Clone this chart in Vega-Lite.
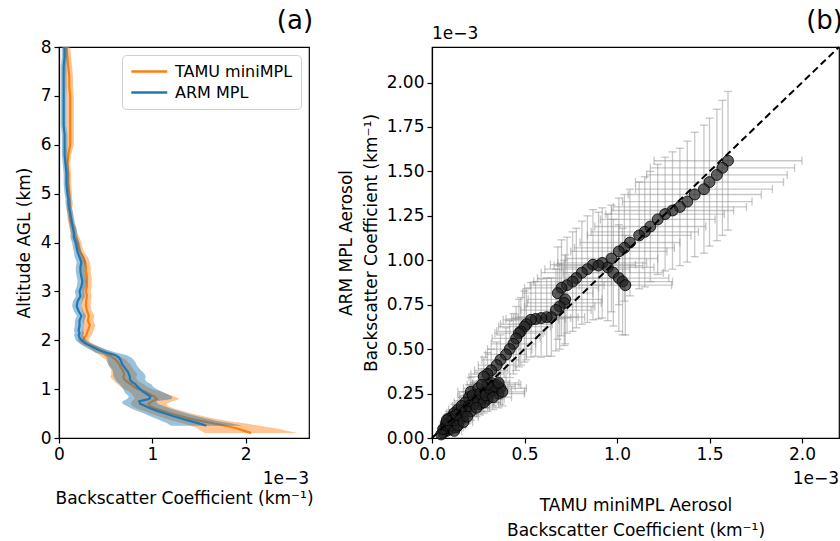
{
  "$schema": "https://vega.github.io/schema/vega-lite/v6.json",
  "padding": {"left": 14, "top": 7, "right": 0, "bottom": 0},
  "bounds": "flush",
  "spacing": 123,
  "resolve": {"scale": {"color": "independent"}, "legend": {"color": "independent"}},
  "config": {
    "font": "DejaVu Sans",
    "view": {"stroke": "#000", "strokeWidth": 1.2},
    "axis": {"grid": false, "domainColor": "#000", "tickColor": "#000", "labelColor": "#000", "titleColor": "#000", "labelFontSize": 17, "titleFontSize": 17, "titleFontWeight": "normal", "tickSize": 5, "labelPadding": 3, "domainWidth": 1.2, "tickWidth": 1.2, "labelFlush": false, "labelOverlap": false},
    "title": {"fontSize": 26, "fontWeight": "normal", "anchor": "end", "color": "#000", "offset": 4},
    "legend": {"labelFontSize": 16, "labelColor": "#000"}
  },
  "datasets": {
    "prof": [
      {"a":0.10,"t":2.06,"tl":1.56,"th":2.56},
      {"a":0.15,"t":1.98,"tl":1.52,"th":2.44},
      {"a":0.20,"t":1.90,"tl":1.48,"th":2.32},
      {"a":0.25,"t":1.78,"tl":1.41,"th":2.15,"m":1.58,"ml":1.20,"mh":1.96},
      {"a":0.30,"t":1.66,"tl":1.33,"th":1.99,"m":1.50,"ml":1.16,"mh":1.84},
      {"a":0.35,"t":1.52,"tl":1.23,"th":1.81,"m":1.40,"ml":1.10,"mh":1.70},
      {"a":0.40,"t":1.40,"tl":1.14,"th":1.66,"m":1.31,"ml":1.04,"mh":1.58},
      {"a":0.45,"t":1.30,"tl":1.06,"th":1.54,"m":1.22,"ml":0.97,"mh":1.47},
      {"a":0.50,"t":1.20,"tl":0.98,"th":1.42,"m":1.14,"ml":0.91,"mh":1.37},
      {"a":0.55,"t":1.12,"tl":0.91,"th":1.33,"m":1.06,"ml":0.84,"mh":1.28},
      {"a":0.60,"t":1.04,"tl":0.84,"th":1.24,"m":0.99,"ml":0.78,"mh":1.20},
      {"a":0.65,"t":0.98,"tl":0.79,"th":1.17,"m":0.93,"ml":0.73,"mh":1.13},
      {"a":0.70,"t":0.96,"tl":0.77,"th":1.15,"m":0.87,"ml":0.68,"mh":1.06},
      {"a":0.75,"t":1.00,"tl":0.78,"th":1.22,"m":0.86,"ml":0.68,"mh":1.04},
      {"a":0.80,"t":1.05,"tl":0.81,"th":1.29,"m":0.97,"ml":0.73,"mh":1.21},
      {"a":0.85,"t":1.02,"tl":0.80,"th":1.24,"m":0.98,"ml":0.75,"mh":1.21},
      {"a":0.90,"t":0.97,"tl":0.78,"th":1.16,"m":0.94,"ml":0.72,"mh":1.16},
      {"a":0.95,"t":0.92,"tl":0.75,"th":1.09,"m":0.90,"ml":0.70,"mh":1.10},
      {"a":1.00,"t":0.85,"tl":0.70,"th":1.00,"m":0.87,"ml":0.69,"mh":1.05},
      {"a":1.05,"t":0.80,"tl":0.66,"th":0.94,"m":0.84,"ml":0.67,"mh":1.01},
      {"a":1.10,"t":0.77,"tl":0.63,"th":0.91,"m":0.82,"ml":0.65,"mh":0.99},
      {"a":1.15,"t":0.73,"tl":0.60,"th":0.86,"m":0.78,"ml":0.62,"mh":0.94},
      {"a":1.20,"t":0.70,"tl":0.57,"th":0.83,"m":0.76,"ml":0.60,"mh":0.92},
      {"a":1.25,"t":0.69,"tl":0.55,"th":0.83,"m":0.76,"ml":0.59,"mh":0.93},
      {"a":1.30,"t":0.70,"tl":0.56,"th":0.84,"m":0.75,"ml":0.58,"mh":0.92},
      {"a":1.35,"t":0.69,"tl":0.56,"th":0.82,"m":0.74,"ml":0.58,"mh":0.90},
      {"a":1.40,"t":0.68,"tl":0.56,"th":0.80,"m":0.72,"ml":0.57,"mh":0.87},
      {"a":1.45,"t":0.66,"tl":0.54,"th":0.78,"m":0.70,"ml":0.55,"mh":0.85},
      {"a":1.50,"t":0.65,"tl":0.53,"th":0.77,"m":0.68,"ml":0.53,"mh":0.83},
      {"a":1.55,"t":0.63,"tl":0.52,"th":0.74,"m":0.67,"ml":0.52,"mh":0.82},
      {"a":1.60,"t":0.61,"tl":0.50,"th":0.72,"m":0.66,"ml":0.52,"mh":0.80},
      {"a":1.65,"t":0.57,"tl":0.47,"th":0.67,"m":0.64,"ml":0.51,"mh":0.77},
      {"a":1.70,"t":0.53,"tl":0.43,"th":0.63,"m":0.60,"ml":0.48,"mh":0.72},
      {"a":1.75,"t":0.48,"tl":0.39,"th":0.57,"m":0.50,"ml":0.39,"mh":0.61},
      {"a":1.80,"t":0.43,"tl":0.35,"th":0.51,"m":0.43,"ml":0.34,"mh":0.52},
      {"a":1.85,"t":0.38,"tl":0.31,"th":0.45,"m":0.37,"ml":0.29,"mh":0.45},
      {"a":1.90,"t":0.33,"tl":0.26,"th":0.40,"m":0.32,"ml":0.25,"mh":0.39},
      {"a":1.95,"t":0.28,"tl":0.22,"th":0.34,"m":0.27,"ml":0.21,"mh":0.33},
      {"a":2.00,"t":0.26,"tl":0.20,"th":0.32,"m":0.24,"ml":0.18,"mh":0.30},
      {"a":2.05,"t":0.27,"tl":0.21,"th":0.33,"m":0.22,"ml":0.17,"mh":0.27},
      {"a":2.10,"t":0.29,"tl":0.23,"th":0.35,"m":0.21,"ml":0.16,"mh":0.26},
      {"a":2.15,"t":0.30,"tl":0.24,"th":0.36,"m":0.22,"ml":0.17,"mh":0.27},
      {"a":2.20,"t":0.31,"tl":0.25,"th":0.37,"m":0.21,"ml":0.16,"mh":0.26},
      {"a":2.30,"t":0.33,"tl":0.27,"th":0.39,"m":0.22,"ml":0.17,"mh":0.27},
      {"a":2.40,"t":0.31,"tl":0.25,"th":0.37,"m":0.22,"ml":0.17,"mh":0.27},
      {"a":2.50,"t":0.32,"tl":0.26,"th":0.38,"m":0.24,"ml":0.19,"mh":0.29},
      {"a":2.60,"t":0.30,"tl":0.25,"th":0.35,"m":0.21,"ml":0.16,"mh":0.26},
      {"a":2.70,"t":0.29,"tl":0.24,"th":0.34,"m":0.19,"ml":0.14,"mh":0.24},
      {"a":2.80,"t":0.29,"tl":0.24,"th":0.34,"m":0.20,"ml":0.15,"mh":0.25},
      {"a":2.90,"t":0.30,"tl":0.25,"th":0.35,"m":0.23,"ml":0.18,"mh":0.28},
      {"a":3.00,"t":0.29,"tl":0.24,"th":0.34,"m":0.22,"ml":0.17,"mh":0.27},
      {"a":3.10,"t":0.30,"tl":0.25,"th":0.35,"m":0.24,"ml":0.19,"mh":0.29},
      {"a":3.20,"t":0.30,"tl":0.25,"th":0.35,"m":0.25,"ml":0.20,"mh":0.30},
      {"a":3.30,"t":0.30,"tl":0.25,"th":0.35,"m":0.24,"ml":0.19,"mh":0.29},
      {"a":3.40,"t":0.29,"tl":0.24,"th":0.34,"m":0.23,"ml":0.18,"mh":0.28},
      {"a":3.50,"t":0.29,"tl":0.24,"th":0.34,"m":0.23,"ml":0.18,"mh":0.28},
      {"a":3.60,"t":0.28,"tl":0.23,"th":0.33,"m":0.24,"ml":0.19,"mh":0.29},
      {"a":3.70,"t":0.26,"tl":0.21,"th":0.31,"m":0.22,"ml":0.17,"mh":0.27},
      {"a":3.80,"t":0.23,"tl":0.19,"th":0.27,"m":0.20,"ml":0.16,"mh":0.24},
      {"a":3.90,"t":0.21,"tl":0.17,"th":0.25,"m":0.19,"ml":0.15,"mh":0.23},
      {"a":4.00,"t":0.20,"tl":0.16,"th":0.24,"m":0.18,"ml":0.14,"mh":0.22},
      {"a":4.10,"t":0.18,"tl":0.14,"th":0.22,"m":0.16,"ml":0.12,"mh":0.20},
      {"a":4.20,"t":0.16,"tl":0.125,"th":0.195,"m":0.16,"ml":0.125,"mh":0.195},
      {"a":4.30,"t":0.15,"tl":0.115,"th":0.185,"m":0.15,"ml":0.115,"mh":0.185},
      {"a":4.40,"t":0.13,"tl":0.10,"th":0.16,"m":0.14,"ml":0.11,"mh":0.17},
      {"a":4.50,"t":0.12,"tl":0.09,"th":0.15,"m":0.13,"ml":0.10,"mh":0.16},
      {"a":4.60,"t":0.12,"tl":0.09,"th":0.15,"m":0.12,"ml":0.09,"mh":0.15},
      {"a":4.70,"t":0.11,"tl":0.08,"th":0.14,"m":0.11,"ml":0.08,"mh":0.14},
      {"a":4.80,"t":0.12,"tl":0.09,"th":0.15,"m":0.10,"ml":0.07,"mh":0.13},
      {"a":4.90,"t":0.11,"tl":0.08,"th":0.14,"m":0.10,"ml":0.07,"mh":0.13},
      {"a":5.00,"t":0.11,"tl":0.08,"th":0.14,"m":0.09,"ml":0.06,"mh":0.12},
      {"a":5.20,"t":0.10,"tl":0.07,"th":0.13,"m":0.08,"ml":0.05,"mh":0.11},
      {"a":5.40,"t":0.10,"tl":0.07,"th":0.13,"m":0.08,"ml":0.05,"mh":0.11},
      {"a":5.60,"t":0.09,"tl":0.06,"th":0.12,"m":0.07,"ml":0.04,"mh":0.10},
      {"a":5.80,"t":0.10,"tl":0.07,"th":0.13,"m":0.06,"ml":0.03,"mh":0.09},
      {"a":6.00,"t":0.12,"tl":0.08,"th":0.16,"m":0.06,"ml":0.03,"mh":0.09},
      {"a":6.20,"t":0.12,"tl":0.08,"th":0.16,"m":0.06,"ml":0.03,"mh":0.09},
      {"a":6.40,"t":0.12,"tl":0.08,"th":0.16,"m":0.05,"ml":0.02,"mh":0.08},
      {"a":6.60,"t":0.12,"tl":0.08,"th":0.16,"m":0.05,"ml":0.02,"mh":0.08},
      {"a":6.80,"t":0.12,"tl":0.08,"th":0.16,"m":0.05,"ml":0.02,"mh":0.08},
      {"a":7.00,"t":0.12,"tl":0.08,"th":0.16,"m":0.05,"ml":0.02,"mh":0.08},
      {"a":7.20,"t":0.11,"tl":0.07,"th":0.15,"m":0.05,"ml":0.02,"mh":0.08},
      {"a":7.40,"t":0.11,"tl":0.07,"th":0.15,"m":0.05,"ml":0.02,"mh":0.08},
      {"a":7.60,"t":0.10,"tl":0.06,"th":0.14,"m":0.05,"ml":0.02,"mh":0.08},
      {"a":7.80,"t":0.09,"tl":0.05,"th":0.13,"m":0.06,"ml":0.03,"mh":0.09},
      {"a":8.00,"t":0.08,"tl":0.04,"th":0.12,"m":0.06,"ml":0.03,"mh":0.09}
    ],
    "sc": [
      {"x":1.60,"y":1.56,"x1":1.20,"x2":2.00,"y1":1.17,"y2":1.95},
      {"x":1.57,"y":1.52,"x1":1.18,"x2":1.96,"y1":1.14,"y2":1.90},
      {"x":1.54,"y":1.48,"x1":1.16,"x2":1.92,"y1":1.11,"y2":1.85},
      {"x":1.50,"y":1.44,"x1":1.10,"x2":1.90,"y1":1.08,"y2":1.80},
      {"x":1.47,"y":1.40,"x1":1.10,"x2":1.84,"y1":1.04,"y2":1.76},
      {"x":1.42,"y":1.37,"x1":1.06,"x2":1.78,"y1":1.02,"y2":1.72},
      {"x":1.38,"y":1.33,"x1":1.03,"x2":1.73,"y1":0.99,"y2":1.67},
      {"x":1.34,"y":1.30,"x1":0.98,"x2":1.70,"y1":0.97,"y2":1.63},
      {"x":1.30,"y":1.28,"x1":0.97,"x2":1.63,"y1":0.95,"y2":1.61},
      {"x":1.26,"y":1.26,"x1":0.94,"x2":1.58,"y1":0.94,"y2":1.58},
      {"x":1.22,"y":1.23,"x1":0.91,"x2":1.53,"y1":0.92,"y2":1.54},
      {"x":1.18,"y":1.19,"x1":0.88,"x2":1.48,"y1":0.88,"y2":1.50},
      {"x":1.15,"y":1.16,"x1":0.86,"x2":1.44,"y1":0.85,"y2":1.47},
      {"x":1.12,"y":1.14,"x1":0.84,"x2":1.40,"y1":0.84,"y2":1.44},
      {"x":1.07,"y":1.10,"x1":0.80,"x2":1.34,"y1":0.80,"y2":1.40},
      {"x":1.04,"y":1.07,"x1":0.77,"x2":1.31,"y1":0.77,"y2":1.37},
      {"x":1.01,"y":1.05,"x1":0.75,"x2":1.27,"y1":0.75,"y2":1.35},
      {"x":0.97,"y":1.01,"x1":0.72,"x2":1.22,"y1":0.71,"y2":1.31},
      {"x":0.92,"y":0.985,"x1":0.68,"x2":1.16,"y1":0.675,"y2":1.295},
      {"x":0.87,"y":0.975,"x1":0.64,"x2":1.10,"y1":0.665,"y2":1.285},
      {"x":0.95,"y":0.96,"x1":0.70,"x2":1.20,"y1":0.66,"y2":1.26},
      {"x":0.98,"y":0.93,"x1":0.71,"x2":1.25,"y1":0.63,"y2":1.23},
      {"x":1.01,"y":0.90,"x1":0.74,"x2":1.28,"y1":0.60,"y2":1.20},
      {"x":1.03,"y":0.88,"x1":0.76,"x2":1.30,"y1":0.58,"y2":1.18},
      {"x":1.045,"y":0.86,"x1":0.795,"x2":1.295,"y1":0.58,"y2":1.14},
      {"x":0.90,"y":0.97,"x1":0.66,"x2":1.14,"y1":0.67,"y2":1.27},
      {"x":0.84,"y":0.95,"x1":0.61,"x2":1.07,"y1":0.65,"y2":1.25},
      {"x":0.81,"y":0.93,"x1":0.59,"x2":1.03,"y1":0.64,"y2":1.22},
      {"x":0.78,"y":0.90,"x1":0.57,"x2":0.99,"y1":0.62,"y2":1.18},
      {"x":0.76,"y":0.88,"x1":0.55,"x2":0.97,"y1":0.60,"y2":1.16},
      {"x":0.73,"y":0.86,"x1":0.53,"x2":0.93,"y1":0.59,"y2":1.13},
      {"x":0.70,"y":0.845,"x1":0.50,"x2":0.90,"y1":0.575,"y2":1.115},
      {"x":0.68,"y":0.815,"x1":0.49,"x2":0.87,"y1":0.555,"y2":1.075},
      {"x":0.72,"y":0.78,"x1":0.52,"x2":0.92,"y1":0.53,"y2":1.03},
      {"x":0.715,"y":0.76,"x1":0.515,"x2":0.915,"y1":0.52,"y2":1.00},
      {"x":0.69,"y":0.74,"x1":0.50,"x2":0.88,"y1":0.50,"y2":0.98},
      {"x":0.67,"y":0.72,"x1":0.48,"x2":0.86,"y1":0.49,"y2":0.95},
      {"x":0.645,"y":0.68,"x1":0.465,"x2":0.825,"y1":0.46,"y2":0.90},
      {"x":0.62,"y":0.68,"x1":0.45,"x2":0.79,"y1":0.46,"y2":0.90},
      {"x":0.59,"y":0.675,"x1":0.43,"x2":0.75,"y1":0.455,"y2":0.895},
      {"x":0.56,"y":0.67,"x1":0.40,"x2":0.72,"y1":0.46,"y2":0.88},
      {"x":0.535,"y":0.665,"x1":0.385,"x2":0.685,"y1":0.455,"y2":0.875},
      {"x":0.51,"y":0.64,"x1":0.37,"x2":0.65,"y1":0.44,"y2":0.84},
      {"x":0.50,"y":0.627,"x1":0.36,"x2":0.64,"y1":0.427,"y2":0.827},
      {"x":0.48,"y":0.60,"x1":0.35,"x2":0.61,"y1":0.41,"y2":0.79},
      {"x":0.47,"y":0.59,"x1":0.34,"x2":0.60,"y1":0.40,"y2":0.78},
      {"x":0.455,"y":0.56,"x1":0.325,"x2":0.585,"y1":0.38,"y2":0.74},
      {"x":0.44,"y":0.53,"x1":0.32,"x2":0.56,"y1":0.36,"y2":0.70},
      {"x":0.42,"y":0.50,"x1":0.30,"x2":0.54,"y1":0.34,"y2":0.66},
      {"x":0.40,"y":0.47,"x1":0.29,"x2":0.51,"y1":0.32,"y2":0.62},
      {"x":0.37,"y":0.44,"x1":0.27,"x2":0.47,"y1":0.30,"y2":0.58},
      {"x":0.35,"y":0.41,"x1":0.25,"x2":0.45,"y1":0.28,"y2":0.54},
      {"x":0.32,"y":0.38,"x1":0.23,"x2":0.41,"y1":0.26,"y2":0.50},
      {"x":0.30,"y":0.36,"x1":0.21,"x2":0.39,"y1":0.24,"y2":0.48},
      {"x":0.28,"y":0.345,"x1":0.20,"x2":0.36,"y1":0.235,"y2":0.455},
      {"x":0.35,"y":0.30,"x1":0.22,"x2":0.48,"y1":0.20,"y2":0.40},
      {"x":0.37,"y":0.28,"x1":0.23,"x2":0.51,"y1":0.19,"y2":0.37},
      {"x":0.36,"y":0.25,"x1":0.22,"x2":0.50,"y1":0.17,"y2":0.33},
      {"x":0.33,"y":0.27,"x1":0.23,"x2":0.43,"y1":0.18,"y2":0.36},
      {"x":0.31,"y":0.25,"x1":0.22,"x2":0.40,"y1":0.17,"y2":0.33},
      {"x":0.30,"y":0.22,"x1":0.21,"x2":0.39,"y1":0.15,"y2":0.29},
      {"x":0.28,"y":0.26,"x1":0.20,"x2":0.36,"y1":0.18,"y2":0.34},
      {"x":0.27,"y":0.22,"x1":0.19,"x2":0.35,"y1":0.15,"y2":0.29},
      {"x":0.26,"y":0.19,"x1":0.18,"x2":0.34,"y1":0.13,"y2":0.25},
      {"x":0.24,"y":0.24,"x1":0.17,"x2":0.31,"y1":0.16,"y2":0.32},
      {"x":0.22,"y":0.21,"x1":0.15,"x2":0.29,"y1":0.14,"y2":0.28},
      {"x":0.20,"y":0.23,"x1":0.14,"x2":0.26,"y1":0.16,"y2":0.30},
      {"x":0.18,"y":0.20,"x1":0.12,"x2":0.24,"y1":0.14,"y2":0.26},
      {"x":0.19,"y":0.17,"x1":0.13,"x2":0.25,"y1":0.11,"y2":0.23},
      {"x":0.16,"y":0.15,"x1":0.11,"x2":0.21,"y1":0.10,"y2":0.20},
      {"x":0.15,"y":0.13,"x1":0.10,"x2":0.20,"y1":0.08,"y2":0.18},
      {"x":0.14,"y":0.16,"x1":0.09,"x2":0.19,"y1":0.11,"y2":0.21},
      {"x":0.13,"y":0.11,"x1":0.09,"x2":0.17,"y1":0.07,"y2":0.15},
      {"x":0.11,"y":0.12,"x1":0.07,"x2":0.15,"y1":0.08,"y2":0.16},
      {"x":0.12,"y":0.08,"x1":0.08,"x2":0.16,"y1":0.05,"y2":0.11},
      {"x":0.10,"y":0.09,"x1":0.06,"x2":0.14,"y1":0.06,"y2":0.12},
      {"x":0.09,"y":0.06,"x1":0.06,"x2":0.12,"y1":0.03,"y2":0.09},
      {"x":0.08,"y":0.04,"x1":0.05,"x2":0.11,"y1":0.02,"y2":0.06},
      {"x":0.07,"y":0.05,"x1":0.04,"x2":0.10,"y1":0.03,"y2":0.07},
      {"x":0.10,"y":0.05,"x1":0.06,"x2":0.14,"y1":0.03,"y2":0.07},
      {"x":0.13,"y":0.06,"x1":0.09,"x2":0.17,"y1":0.03,"y2":0.09},
      {"x":0.14,"y":0.10,"x1":0.09,"x2":0.19,"y1":0.06,"y2":0.14},
      {"x":0.12,"y":0.14,"x1":0.08,"x2":0.16,"y1":0.09,"y2":0.19},
      {"x":0.09,"y":0.11,"x1":0.06,"x2":0.12,"y1":0.07,"y2":0.15},
      {"x":0.06,"y":0.03,"x1":0.04,"x2":0.08,"y1":0.015,"y2":0.045},
      {"x":0.075,"y":0.08,"x1":0.045,"x2":0.105,"y1":0.05,"y2":0.11},
      {"x":0.17,"y":0.12,"x1":0.12,"x2":0.22,"y1":0.08,"y2":0.16},
      {"x":0.21,"y":0.26,"x1":0.14,"x2":0.28,"y1":0.18,"y2":0.34},
      {"x":0.25,"y":0.28,"x1":0.17,"x2":0.33,"y1":0.19,"y2":0.37},
      {"x":0.32,"y":0.31,"x1":0.22,"x2":0.42,"y1":0.21,"y2":0.41},
      {"x":0.05,"y":0.02,"x1":0.035,"x2":0.065,"y1":0.01,"y2":0.03},
      {"x":0.06,"y":0.05,"x1":0.04,"x2":0.08,"y1":0.035,"y2":0.065},
      {"x":0.08,"y":0.07,"x1":0.055,"x2":0.105,"y1":0.05,"y2":0.09},
      {"x":0.10,"y":0.07,"x1":0.07,"x2":0.13,"y1":0.05,"y2":0.09},
      {"x":0.11,"y":0.10,"x1":0.08,"x2":0.14,"y1":0.07,"y2":0.13},
      {"x":0.13,"y":0.13,"x1":0.09,"x2":0.17,"y1":0.09,"y2":0.17},
      {"x":0.15,"y":0.10,"x1":0.10,"x2":0.20,"y1":0.07,"y2":0.13},
      {"x":0.16,"y":0.18,"x1":0.11,"x2":0.21,"y1":0.13,"y2":0.23},
      {"x":0.18,"y":0.15,"x1":0.12,"x2":0.24,"y1":0.10,"y2":0.20},
      {"x":0.20,"y":0.18,"x1":0.14,"x2":0.26,"y1":0.13,"y2":0.23},
      {"x":0.21,"y":0.15,"x1":0.15,"x2":0.27,"y1":0.10,"y2":0.20},
      {"x":0.22,"y":0.24,"x1":0.15,"x2":0.29,"y1":0.17,"y2":0.31},
      {"x":0.23,"y":0.19,"x1":0.16,"x2":0.30,"y1":0.13,"y2":0.25},
      {"x":0.25,"y":0.21,"x1":0.17,"x2":0.33,"y1":0.15,"y2":0.27},
      {"x":0.26,"y":0.25,"x1":0.18,"x2":0.34,"y1":0.18,"y2":0.32},
      {"x":0.28,"y":0.20,"x1":0.19,"x2":0.37,"y1":0.14,"y2":0.26},
      {"x":0.29,"y":0.24,"x1":0.20,"x2":0.38,"y1":0.17,"y2":0.31},
      {"x":0.31,"y":0.28,"x1":0.21,"x2":0.41,"y1":0.20,"y2":0.36},
      {"x":0.33,"y":0.23,"x1":0.23,"x2":0.43,"y1":0.16,"y2":0.30},
      {"x":0.34,"y":0.29,"x1":0.23,"x2":0.45,"y1":0.20,"y2":0.38},
      {"x":0.38,"y":0.26,"x1":0.26,"x2":0.50,"y1":0.18,"y2":0.34},
      {"x":0.36,"y":0.31,"x1":0.25,"x2":0.47,"y1":0.22,"y2":0.40},
      {"x":0.12,"y":0.04,"x1":0.08,"x2":0.16,"y1":0.025,"y2":0.055},
      {"x":0.14,"y":0.07,"x1":0.10,"x2":0.18,"y1":0.05,"y2":0.09},
      {"x":0.17,"y":0.09,"x1":0.12,"x2":0.22,"y1":0.06,"y2":0.12},
      {"x":0.19,"y":0.12,"x1":0.13,"x2":0.25,"y1":0.08,"y2":0.16},
      {"x":0.08,"y":0.10,"x1":0.055,"x2":0.105,"y1":0.07,"y2":0.13},
      {"x":0.24,"y":0.17,"x1":0.17,"x2":0.31,"y1":0.12,"y2":0.22},
      {"x":0.30,"y":0.30,"x1":0.21,"x2":0.39,"y1":0.21,"y2":0.39},
      {"x":0.27,"y":0.30,"x1":0.19,"x2":0.35,"y1":0.21,"y2":0.39}
    ]
  },
  "hconcat": [
    {
      "width": 250,
      "height": 391,
      "title": {"text": "(a)"},
      "layer": [
        {
          "data": {"name": "prof"},
          "mark": {"type": "area", "orient": "horizontal", "color": "#ff7f0e", "opacity": 0.45},
          "encoding": {
            "y": {"field": "a", "type": "quantitative", "scale": {"domain": [0, 8], "nice": false},
                  "axis": {"values": [0,1,2,3,4,5,6,7,8], "format": "d", "title": "Altitude AGL (km)", "titlePadding": 7}},
            "x": {"field": "tl", "type": "quantitative", "scale": {"domain": [0, 2.68], "nice": false},
                  "axis": {"values": [0,1,2], "format": "d", "title": "Backscatter Coefficient (km⁻¹)", "titlePadding": 28}},
            "x2": {"field": "th"}
          }
        },
        {
          "data": {"name": "prof"},
          "mark": {"type": "line", "strokeWidth": 2.2},
          "encoding": {
            "y": {"field": "a", "type": "quantitative"},
            "x": {"field": "t", "type": "quantitative"},
            "order": {"field": "a", "type": "quantitative"},
            "color": {"datum": "TAMU miniMPL", "type": "nominal",
                      "scale": {"domain": ["TAMU miniMPL", "ARM MPL"], "range": ["#ff7f0e", "#1f77b4"]},
                      "legend": {"title": null, "orient": "top-right", "offset": 8, "padding": 8,
                                 "symbolType": "M-1,0H4", "symbolSize": 207, "symbolStrokeWidth": 2.5,
                                 "labelOffset": 28, "rowPadding": 4, "strokeColor": "#d0d0d0",
                                 "cornerRadius": 4, "fillColor": "rgba(255,255,255,0.8)"}}
          }
        },
        {
          "data": {"name": "prof"},
          "mark": {"type": "area", "orient": "horizontal", "color": "#1f77b4", "opacity": 0.45},
          "encoding": {
            "y": {"field": "a", "type": "quantitative"},
            "x": {"field": "ml", "type": "quantitative"},
            "x2": {"field": "mh"}
          }
        },
        {
          "data": {"name": "prof"},
          "mark": {"type": "line", "strokeWidth": 2.2},
          "encoding": {
            "y": {"field": "a", "type": "quantitative"},
            "x": {"field": "m", "type": "quantitative"},
            "order": {"field": "a", "type": "quantitative"},
            "color": {"datum": "ARM MPL", "type": "nominal"}
          }
        },
        {
          "data": {"values": [{"x": 2.68, "y": 0, "t": "1e−3"}]},
          "mark": {"type": "text", "align": "right", "baseline": "middle", "dy": 41, "fontSize": 17, "color": "#000"},
          "encoding": {
            "x": {"field": "x", "type": "quantitative"},
            "y": {"field": "y", "type": "quantitative"},
            "text": {"field": "t"}
          }
        }
      ]
    },
    {
      "width": 407,
      "height": 391,
      "title": {"text": "(b)", "dy": 13},
      "layer": [
        {
          "data": {"name": "sc"},
          "mark": {"type": "rule", "color": "#909090", "opacity": 0.5, "strokeWidth": 1.3},
          "encoding": {
            "x": {"field": "x1", "type": "quantitative", "scale": {"domain": [0, 2.2], "nice": false},
                  "axis": {"values": [0, 0.5, 1, 1.5, 2], "format": ".1f", "title": ["TAMU miniMPL Aerosol", "Backscatter Coefficient (km⁻¹)"], "titlePadding": 35, "titleLineHeight": 25}},
            "x2": {"field": "x2"},
            "y": {"field": "y", "type": "quantitative", "scale": {"domain": [0, 2.2], "nice": false},
                  "axis": {"values": [0, 0.25, 0.5, 0.75, 1, 1.25, 1.5, 1.75, 2], "format": ".2f", "title": ["ARM MPL Aerosol", "Backscatter Coefficient (km⁻¹)"], "titlePadding": 6, "titleLineHeight": 25}}
          }
        },
        {
          "data": {"name": "sc"},
          "mark": {"type": "rule", "color": "#909090", "opacity": 0.5, "strokeWidth": 1.3},
          "encoding": {
            "x": {"field": "x", "type": "quantitative"},
            "y": {"field": "y1", "type": "quantitative"},
            "y2": {"field": "y2"}
          }
        },
        {
          "data": {"name": "sc"},
          "mark": {"type": "tick", "orient": "vertical", "color": "#909090", "opacity": 0.5, "thickness": 1.3, "size": 8},
          "encoding": {"x": {"field": "x1", "type": "quantitative"}, "y": {"field": "y", "type": "quantitative"}}
        },
        {
          "data": {"name": "sc"},
          "mark": {"type": "tick", "orient": "vertical", "color": "#909090", "opacity": 0.5, "thickness": 1.3, "size": 8},
          "encoding": {"x": {"field": "x2", "type": "quantitative"}, "y": {"field": "y", "type": "quantitative"}}
        },
        {
          "data": {"name": "sc"},
          "mark": {"type": "tick", "orient": "horizontal", "color": "#909090", "opacity": 0.5, "thickness": 1.3, "size": 8},
          "encoding": {"x": {"field": "x", "type": "quantitative"}, "y": {"field": "y1", "type": "quantitative"}}
        },
        {
          "data": {"name": "sc"},
          "mark": {"type": "tick", "orient": "horizontal", "color": "#909090", "opacity": 0.5, "thickness": 1.3, "size": 8},
          "encoding": {"x": {"field": "x", "type": "quantitative"}, "y": {"field": "y2", "type": "quantitative"}}
        },
        {
          "data": {"name": "sc"},
          "mark": {"type": "circle", "size": 120, "fill": "#222", "fillOpacity": 0.7, "stroke": "#000", "strokeOpacity": 0.8, "strokeWidth": 1},
          "encoding": {"x": {"field": "x", "type": "quantitative"}, "y": {"field": "y", "type": "quantitative"}}
        },
        {
          "data": {"values": [{"v": 0}, {"v": 2.2}]},
          "mark": {"type": "line", "color": "#000", "strokeWidth": 2, "strokeDash": [7, 4]},
          "encoding": {"x": {"field": "v", "type": "quantitative"}, "y": {"field": "v", "type": "quantitative"}}
        },
        {
          "data": {"values": [{"x": 2.2, "y": 0, "t": "1e−3"}]},
          "mark": {"type": "text", "align": "right", "baseline": "middle", "dy": 41, "fontSize": 17, "color": "#000"},
          "encoding": {"x": {"field": "x", "type": "quantitative"}, "y": {"field": "y", "type": "quantitative"}, "text": {"field": "t"}}
        },
        {
          "data": {"values": [{"x": 0, "y": 2.2, "t": "1e−3"}]},
          "mark": {"type": "text", "align": "left", "baseline": "middle", "dy": -13, "fontSize": 17, "color": "#000"},
          "encoding": {"x": {"field": "x", "type": "quantitative"}, "y": {"field": "y", "type": "quantitative"}, "text": {"field": "t"}}
        }
      ]
    }
  ]
}
